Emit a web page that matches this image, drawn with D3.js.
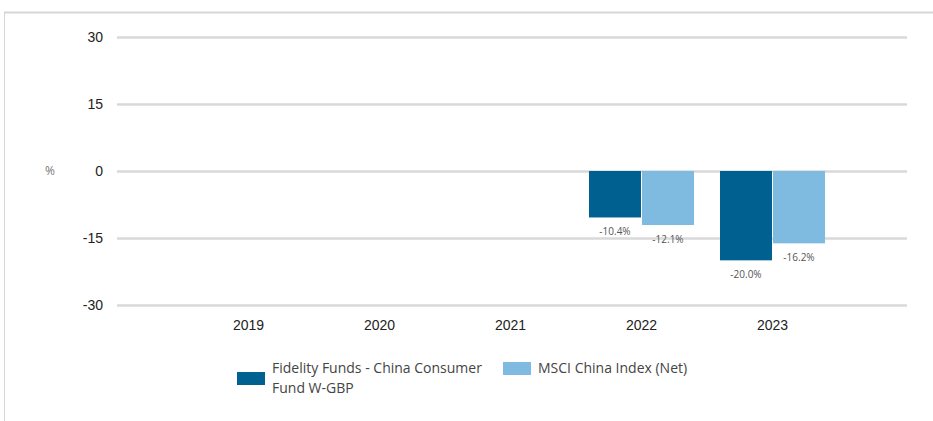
<!DOCTYPE html>
<html><head><meta charset="utf-8">
<script src="https://cdn.jsdelivr.net/npm/d3@7"></script>
<style>body{margin:0;background:#fff;}svg{display:block;font-family:"Open Sans",sans-serif;}</style>
</head><body><svg id="c" width="933" height="421"></svg>
<script>
const years = ["2019","2020","2021","2022","2023"];
const fundValues = [null,null,null,-10.4,-20.0];
const indexValues = [null,null,null,-12.1,-16.2];
const yTicks = [30,15,0,-15,-30];
const seriesNames = ["Fidelity Funds - China Consumer Fund W-GBP","MSCI China Index (Net)"];
const colors = ["#006191","#7fbae0"];

const svg = d3.select("#c");
// frame
svg.append("line").attr("x1",4).attr("x2",933).attr("y1",12.5).attr("y2",12.5).attr("stroke","#d6d6d6").attr("stroke-width",2);
svg.append("line").attr("x1",4.5).attr("x2",4.5).attr("y1",12).attr("y2",421).attr("stroke","#d6d6d6").attr("stroke-width",1);

const y = d3.scaleLinear().domain([-30,30]).range([305,37]);
const x = d3.scalePoint().domain(years).range([117,903]).padding(1);
const bw = 52;
const hyph = s => String(s).replace("\u2212","-");

const yAxis = d3.axisLeft(y).tickValues(yTicks).tickSize(-(907-117)).tickPadding(14).tickFormat(d=>hyph(d3.format("d")(d)));
const gy = svg.append("g").attr("transform","translate(117,0)").call(yAxis);
gy.select(".domain").remove();
gy.selectAll(".tick line").attr("stroke","#d9d9d9").attr("stroke-width",2.5);
gy.selectAll(".tick text").attr("font-size",14).attr("fill","#222");

const xAxis = d3.axisBottom(x).tickSize(0).tickPadding(9);
const gx = svg.append("g").attr("transform","translate(0,311)").call(xAxis);
gx.select(".domain").remove();
gx.selectAll(".tick text").attr("font-size",14).attr("fill","#222");

svg.append("text").attr("x",50).attr("y",y(0)).attr("dy","0.35em").attr("text-anchor","middle").attr("font-size",12).attr("fill","#777").text("%");

const series = [fundValues, indexValues];
series.forEach((vals,i)=>{
  years.forEach((yr,j)=>{
    const v = vals[j];
    if(v==null) return;
    const x0 = x(yr) - bw + i*(bw+1);
    svg.append("rect").attr("x",x0).attr("width",bw)
      .attr("y",y(Math.max(0,v))).attr("height",Math.abs(y(v)-y(0))).attr("fill",colors[i]);
    svg.append("text").attr("x",x0+bw/2).attr("y",y(v)+14).attr("dy","0.35em")
      .attr("text-anchor","middle").attr("font-size",10).attr("fill","#555").text(hyph(d3.format(".1f")(v))+"%");
  });
});

// legend
const lg = svg.append("g");
lg.append("rect").attr("x",237).attr("y",372).attr("width",28).attr("height",13).attr("fill",colors[0]);
lg.append("text").attr("x",272).attr("y",368).attr("dy","0.35em").attr("font-size",14).attr("fill","#444").text("Fidelity Funds - China Consumer");
lg.append("text").attr("x",272).attr("y",388).attr("dy","0.35em").attr("font-size",14).attr("fill","#444").text("Fund W-GBP");
lg.append("rect").attr("x",503).attr("y",362).attr("width",28).attr("height",13).attr("fill",colors[1]);
lg.append("text").attr("x",538).attr("y",368).attr("dy","0.35em").attr("font-size",14).attr("fill","#444").text(seriesNames[1]);
</script></body></html>
